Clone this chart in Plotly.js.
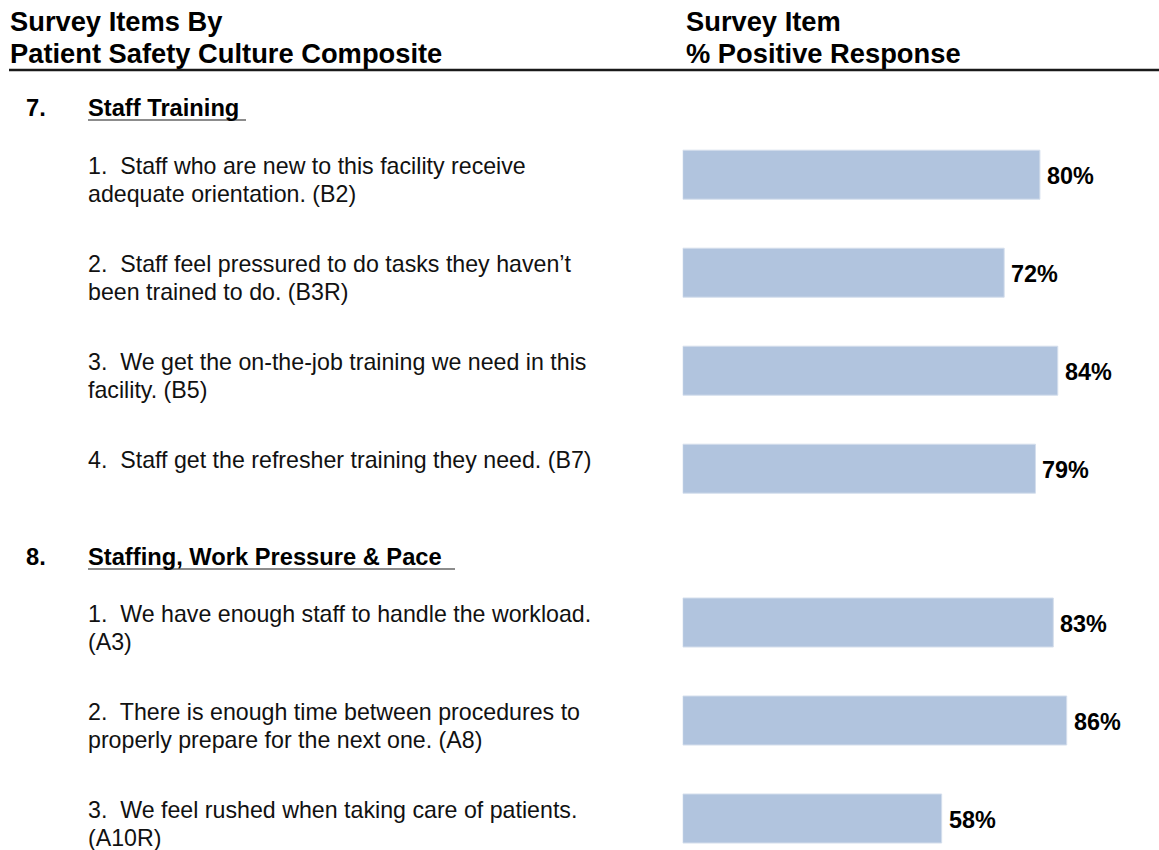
<!DOCTYPE html>
<html>
<head>
<meta charset="utf-8">
<script src="https://cdn.plot.ly/plotly-3.0.1.min.js"></script>
<style>
  html, body { margin: 0; padding: 0; background: #ffffff; }
  #chart { width: 1159px; height: 850px; }
</style>
</head>
<body>
<div id="chart"></div>
<script>
// ---------- DATA ----------
const headerLeft = ["Survey Items By", "Patient Safety Culture Composite"];
const headerRight = ["Survey Item", "% Positive Response"];

const sectionNumbers = ["7.", "8."];
const sectionTitles = ["Staff Training", "Staffing, Work Pressure & Pace"];

const g7Codes = ["B2", "B3R", "B5", "B7"];
const g7Items = [
  "1.\u00a0 Staff who are new to this facility receive|adequate orientation. (B2)",
  "2.\u00a0 Staff feel pressured to do tasks they haven\u2019t|been trained to do. (B3R)",
  "3.\u00a0 We get the on-the-job training we need in this|facility. (B5)",
  "4.\u00a0 Staff get the refresher training they need. (B7)"
];
const g7Values = [80, 72, 84, 79];

const g8Codes = ["A3", "A8", "A10R"];
const g8Items = [
  "1.\u00a0 We have enough staff to handle the workload.|(A3)",
  "2.\u00a0 There is enough time between procedures to|properly prepare for the next one. (A8)",
  "3.\u00a0 We feel rushed when taking care of patients.|(A10R)"
];
const g8Values = [83, 86, 58];

// ---------- STYLE / LAYOUT HELPERS ----------
const W = 1159, H = 850;
const FONT = "Arial, 'Liberation Sans', sans-serif";
const BAR_COLOR = "#B1C4DE";
const px = v => v / W;
const py = v => 1 - v / H;

const traces = [
  {
    type: "bar", orientation: "h",
    x: g7Values, y: g7Codes,
    xaxis: "x", yaxis: "y",
    width: 0.5,
    marker: { color: BAR_COLOR, line: { color: "#D4DEEC", width: 1 } },
    hoverinfo: "skip"
  },
  {
    type: "bar", orientation: "h",
    x: g8Values, y: g8Codes,
    xaxis: "x", yaxis: "y2",
    width: 0.5,
    marker: { color: BAR_COLOR, line: { color: "#D4DEEC", width: 1 } },
    hoverinfo: "skip"
  }
];

const annotations = [];
const LINE_H = 27.5;

function addLines(lines, xPx, yCenterPx, size, bold, color, lh) {
  lines.forEach((t, i) => {
    annotations.push({
      xref: "paper", yref: "paper",
      x: px(xPx), y: py(yCenterPx + i * lh),
      xanchor: "left", yanchor: "middle",
      text: bold ? "<b>" + t + "</b>" : t,
      showarrow: false,
      font: { family: FONT, size: size, color: color }
    });
  });
}

// page headers
addLines(headerLeft, 8, 22, 27.3, true, "#000", 32);
addLines(headerRight, 684, 22, 27.3, true, "#000", 32);

// section headers
const sectionY = [108, 557];
sectionNumbers.forEach((n, i) => {
  addLines([n], 24, sectionY[i], 23.7, true, "#000", 0);
  addLines([sectionTitles[i]], 86, sectionY[i], 23.7, true, "#000", 0);
});

// item labels and value labels
function addItems(codes, items, values, yref) {
  codes.forEach((c, i) => {
    items[i].split("|").forEach((line, j) => {
      annotations.push({
        xref: "paper", yref: yref,
        x: px(86), y: c,
        xanchor: "left", yanchor: "middle",
        yshift: 8.5 - j * LINE_H,
        text: line, showarrow: false,
        font: { family: FONT, size: 23.2, color: "#111" }
      });
    });
    annotations.push({
      xref: "x", yref: yref,
      x: values[i], y: c,
      xanchor: "left", yanchor: "middle",
      xshift: 5, yshift: -1,
      text: "<b>" + values[i] + "%</b>", showarrow: false,
      font: { family: FONT, size: 23.4, color: "#000" }
    });
  });
}
addItems(g7Codes, g7Items, g7Values, "y");
addItems(g8Codes, g8Items, g8Values, "y2");

const shapes = [
  { type: "line", xref: "paper", yref: "paper", x0: px(9), x1: 1, y0: py(70), y1: py(70),
    line: { color: "#1a1a1a", width: 2.5 } },
  { type: "line", xref: "paper", yref: "paper", x0: px(88), x1: px(246), y0: py(120), y1: py(120),
    line: { color: "#666", width: 1.5 } },
  { type: "line", xref: "paper", yref: "paper", x0: px(88), x1: px(455), y0: py(569), y1: py(569),
    line: { color: "#666", width: 1.5 } }
];

const SLOT = 98;
const hidden = { showgrid: false, zeroline: false, showticklabels: false, showline: false, ticks: "" };

const layout = {
  width: W, height: H,
  margin: { l: 0, r: 0, t: 0, b: 0, pad: 0 },
  paper_bgcolor: "#fff", plot_bgcolor: "rgba(0,0,0,0)",
  showlegend: false,
  bargap: 0.5,
  xaxis: Object.assign({ domain: [px(682.7), 1], range: [0, (W - 682.7) / 4.465], fixedrange: true }, hidden),
  yaxis: Object.assign({
    domain: [py(125.7 + 4 * SLOT), py(125.7)],
    type: "category", categoryorder: "array", categoryarray: g7Codes,
    range: [3.5, -0.5], anchor: "x"
  }, hidden),
  yaxis2: Object.assign({
    domain: [0, py(573.5)],
    type: "category", categoryorder: "array", categoryarray: g8Codes,
    range: [-0.5 + (H - 573.5) / SLOT, -0.5], anchor: "x"
  }, hidden),
  annotations: annotations,
  shapes: shapes
};

Plotly.newPlot("chart", traces, layout, { staticPlot: true, displayModeBar: false });
</script>
</body>
</html>
